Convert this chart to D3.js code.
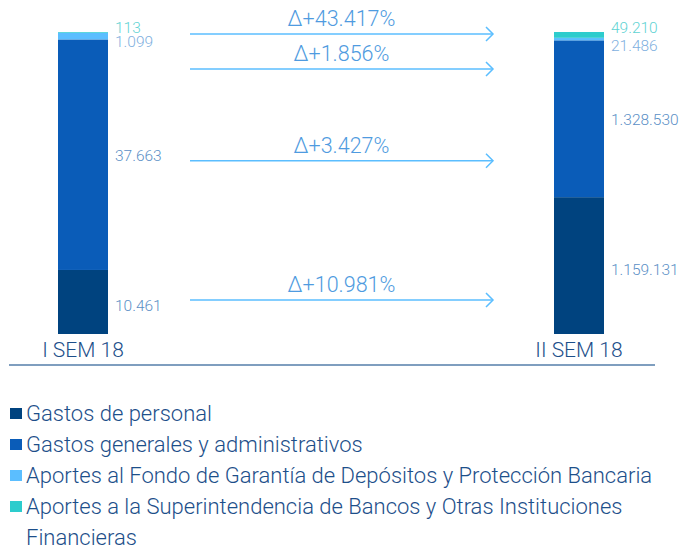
<!DOCTYPE html>
<html>
<head>
<meta charset="utf-8">
<script src="https://cdn.jsdelivr.net/npm/d3@7.9.0/dist/d3.min.js"></script>
<style>
  body { margin: 0; background: #fff; }
  svg { font-family: Roboto, "Open Sans", sans-serif; font-weight: 300; }
</style>
</head>
<body>
<svg id="chart" width="684" height="550"></svg>
<script>
// Data
const periods = ['I SEM 18', 'II SEM 18'];
const seriesNames = [
  'Gastos de personal',
  'Gastos generales y administrativos',
  'Aportes al Fondo de Garantía de Depósitos y Protección Bancaria',
  'Aportes a la Superintendencia de Bancos y Otras Instituciones Financieras'
];
const firstHalf = [10461, 37663, 1099, 113];
const secondHalf = [1159131, 1328530, 21486, 49210];
const valueLabelsFirst = ['10.461', '37.663', '1.099', '113'];
const valueLabelsSecond = ['1.159.131', '1.328.530', '21.486', '49.210'];
const changes = ['Δ+10.981%', 'Δ+3.427%', 'Δ+1.856%', 'Δ+43.417%'];

const colors = ['#00437f', '#0a5cb8', '#5bbeff', '#2dcccd'];
const labelColors = ['#5b8fc6', '#5b8fc6', '#7fb0e0', '#5fd3d3'];

const svg = d3.select('#chart');
const barW = 50;

// stacked shares (each bar is 100%)
const columns = [firstHalf, secondHalf].map((vals) => {
  let total = d3.sum(vals);
  let acc = 0;
  return vals.map((v) => {
    let d = { y0: acc / total, y1: (acc + v) / total };
    acc += v;
    return d;
  });
});

const x = d3.scalePoint().domain(periods).range([83, 579]);
const y = d3.scaleLinear().domain([0, 1]).range([334, 32]);

// bars
periods.forEach((p, pi) => {
  svg.append('g').selectAll('rect')
    .data(columns[pi])
    .join('rect')
    .attr('x', x(p) - barW / 2)
    .attr('width', barW)
    .attr('y', (d) => y(d.y1))
    .attr('height', (d) => y(d.y0) - y(d.y1))
    .attr('fill', (d, i) => colors[i]);
});

// value labels
const labelSets = [valueLabelsFirst, valueLabelsSecond];
function labelY(pi, i) {
  let d = columns[pi][i];
  if (i === 3) return y(1) + 1;
  if (i === 2) return y(1) + (pi === 0 ? 15 : 19);
  return (y(d.y0) + y(d.y1)) / 2 + (i === 0 ? 9 : 6);
}
periods.forEach((p, pi) => {
  svg.append('g').selectAll('text')
    .data(labelSets[pi])
    .join('text')
    .attr('x', x(p) + barW / 2 + 7)
    .attr('y', (d, i) => labelY(pi, i))
    .attr('font-size', 15.5)
    .attr('fill', (d, i) => labelColors[i])
    .text((d) => d);
});

// arrows with change labels
const arrowX0 = 190, arrowX1 = 493;
const arrowY = [y(columns[0][0].y0 / 2 + columns[0][0].y1 / 2) - 2, labelY(0, 1), y(1) + 37, y(1) + 2];
const arrows = svg.append('g');
changes.forEach((c, i) => {
  let ay = arrowY[i];
  arrows.append('line')
    .attr('x1', arrowX0).attr('x2', arrowX1)
    .attr('y1', ay).attr('y2', ay)
    .attr('stroke', '#5bbeff').attr('stroke-width', 1.5);
  arrows.append('path')
    .attr('d', `M${arrowX1 - 7},${ay - 7} L${arrowX1},${ay} L${arrowX1 - 7},${ay + 7}`)
    .attr('fill', 'none').attr('stroke', '#5bbeff').attr('stroke-width', 1.5);
  arrows.append('text')
    .attr('x', (arrowX0 + arrowX1) / 2)
    .attr('y', ay - 8)
    .attr('text-anchor', 'middle')
    .attr('font-size', 21.5)
    .attr('fill', '#4f9be0')
    .text(c);
});

// category labels + base line
svg.append('g').selectAll('text')
  .data(periods)
  .join('text')
  .attr('x', (d) => x(d))
  .attr('y', 357)
  .attr('text-anchor', 'middle')
  .attr('font-size', 21)
  .attr('fill', '#1d4f8a')
  .text((d) => d);

svg.append('line')
  .attr('x1', 9).attr('x2', 655)
  .attr('y1', 365).attr('y2', 365)
  .attr('stroke', '#7f9ebf').attr('stroke-width', 2);

// legend
const legendRows = [
  [seriesNames[0]],
  [seriesNames[1]],
  [seriesNames[2]],
  ['Aportes a la Superintendencia de Bancos y Otras Instituciones', 'Financieras']
];
let rowY = 421;
legendRows.forEach((lines, i) => {
  svg.append('rect')
    .attr('x', 10).attr('y', rowY - 13)
    .attr('width', 12).attr('height', 11)
    .attr('fill', colors[i]);
  lines.forEach((t, j) => {
    svg.append('text')
      .attr('x', 26).attr('y', rowY + j * 31)
      .attr('font-size', 22)
      .attr('fill', '#1d4f8a')
      .text(t);
  });
  rowY += 31 * lines.length;
});
</script>
</body>
</html>
